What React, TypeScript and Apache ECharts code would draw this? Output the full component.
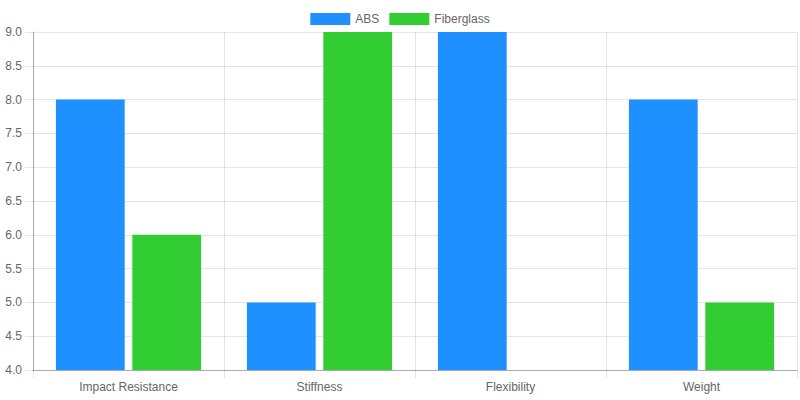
import React, { useEffect, useRef } from "react";
import * as echarts from "echarts";

const categories = ["Impact Resistance", "Stiffness", "Flexibility", "Weight"];
const absValues = [8, 5, 9, 8];
const fiberglassValues = [6, 9, 3, 5];
const seriesNames = ["ABS", "Fiberglass"];
const colors = ["#1E90FF", "#32CD32"];
const yMin = 4;
const yMax = 9;
const yStep = 0.5;

const FONT = "'Liberation Sans', Arial, Helvetica, sans-serif";
const GRID = "rgba(0,0,0,0.1)";

export default function App() {
  const ref = useRef<HTMLDivElement>(null);
  useEffect(() => {
    document.body.style.margin = "0";
    const chart = echarts.init(ref.current!, null, { renderer: "svg" });
    chart.setOption({
      animation: false,
      textStyle: { fontFamily: FONT },
      color: colors,
      legend: {
        top: 8,
        left: "center",
        icon: "rect",
        itemWidth: 40,
        itemHeight: 12,
        itemGap: 10,
        textStyle: { color: "#666", fontSize: 12, fontFamily: FONT },
        data: seriesNames,
      },
      grid: { left: 33, right: 3, top: 32, bottom: 30, containLabel: false },
      xAxis: {
        type: "category",
        data: categories,
        boundaryGap: true,
        axisLine: { show: true, lineStyle: { color: "rgba(0,0,0,0.25)", width: 1 } },
        axisTick: { show: true, length: 8, lineStyle: { color: GRID } },
        splitLine: { show: true, lineStyle: { color: GRID } },
        axisLabel: { color: "#666", fontSize: 12, margin: 11, fontFamily: FONT },
      },
      yAxis: {
        type: "value",
        min: yMin,
        max: yMax,
        interval: yStep,
        axisLine: { show: true, lineStyle: { color: "rgba(0,0,0,0.25)", width: 1 } },
        axisTick: { show: true, length: 8, lineStyle: { color: GRID } },
        splitLine: { show: true, lineStyle: { color: GRID } },
        axisLabel: {
          color: "#666",
          fontSize: 12,
          margin: 11,
          fontFamily: FONT,
          formatter: (v: number) => v.toFixed(1),
        },
      },
      series: [
        {
          name: seriesNames[0],
          type: "bar",
          data: absValues,
          barWidth: "36%",
          barGap: "11.1%",
          clip: true,
          itemStyle: { color: colors[0] },
        },
        {
          name: seriesNames[1],
          type: "bar",
          data: fiberglassValues,
          barWidth: "36%",
          barGap: "11.1%",
          clip: true,
          itemStyle: { color: colors[1] },
        },
      ],
    });
    return () => chart.dispose();
  }, []);
  return <div ref={ref} style={{ width: 800, height: 400 }} />;
}
